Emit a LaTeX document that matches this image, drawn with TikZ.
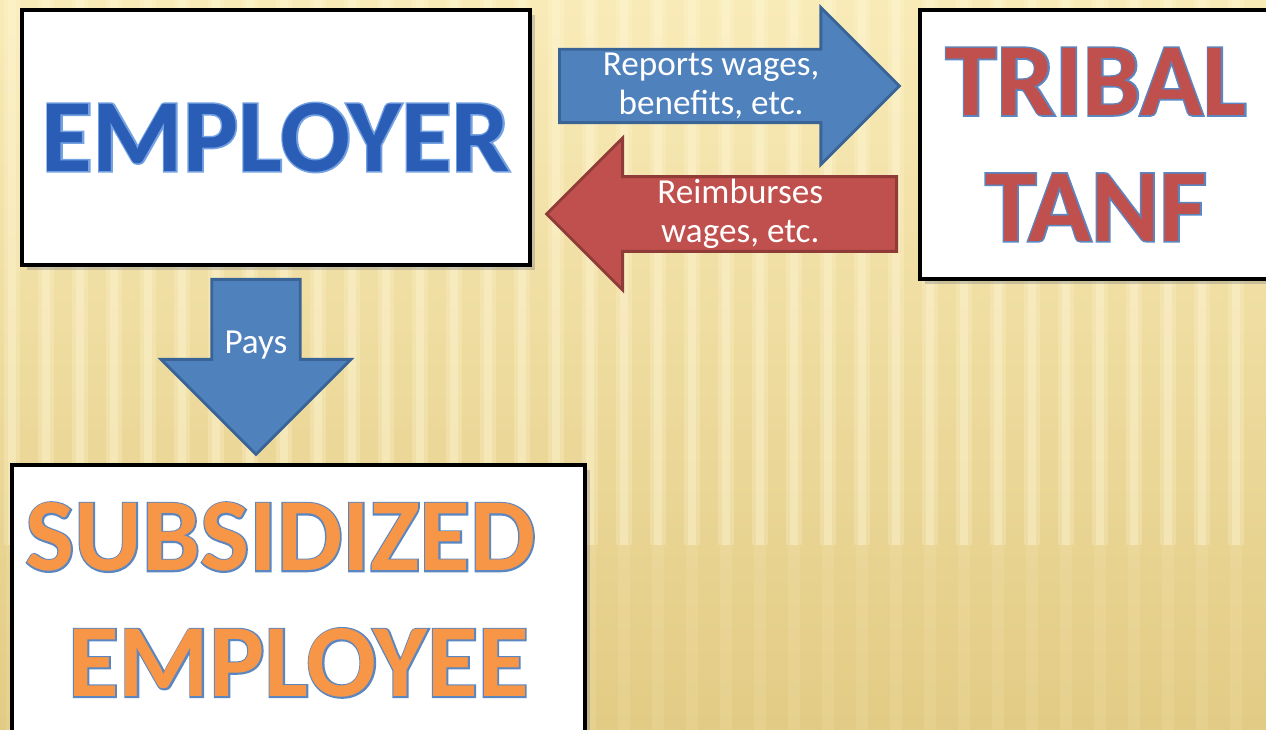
\documentclass[tikz,border=0pt]{standalone}
\usepackage{fontspec}
\setmainfont{Carlito}
\newfontface\titlefont{Carlito Bold}
\newfontface\titleedge{Carlito Bold}[FakeBold=3]
\usetikzlibrary{shapes.arrows,shadows,positioning}

\definecolor{bgtop}{HTML}{F9EBB8}
\definecolor{bgbottom}{HTML}{E2CB84}
\definecolor{stripe}{HTML}{FFF7D6}
\definecolor{arrowblue}{HTML}{4F81BD}
\definecolor{arrowblueline}{HTML}{3A6496}
\definecolor{arrowred}{HTML}{C0504D}
\definecolor{arrowredline}{HTML}{8F3B38}
\definecolor{empblue}{HTML}{2A5EB6}
\definecolor{empedge}{HTML}{74A1E2}
\definecolor{tanfred}{HTML}{C0504D}
\definecolor{staffhue}{HTML}{F79646}
\definecolor{titleline}{HTML}{5A86C2}

% title text with a coloured rim: thick copy below, plain copy on top
\newcommand{\rimtext}[3]{\rlap{\titleedge\color{#2}#3}{\titlefont\color{#1}#3}}

\tikzset{
  party/.style={draw=black, line width=1.1pt, fill=white, inner sep=0pt,
    drop shadow={opacity=0.35, shadow xshift=0.05, shadow yshift=-0.05},
    font=\fontsize{29.5}{35.8}\selectfont, align=center},
  flow/.style={single arrow, single arrow tip angle=90, inner sep=0pt,
    line width=0.8pt, text=white, align=center,
    font=\fontsize{10}{11.2}\selectfont},
}

\begin{document}
\begin{tikzpicture}
    \useasboundingbox (0,0) rectangle (12.66,7.3);

    % Background
    \fill[top color=bgtop, bottom color=bgbottom] (0,0) rectangle (12.66,7.3);
    \foreach \x in {0.12,0.46,...,12.7} {
        \draw[stripe, line width=0.16cm, opacity=0.25] (\x,7.3) -- (\x,1.85);
        \draw[stripe, line width=0.08cm, opacity=0.35] (\x,7.3) -- (\x,1.85);
        \draw[stripe, line width=0.12cm, opacity=0.12] (\x,1.85) -- (\x,0);
    }

    % Parties
    \node[party, minimum width=5.08cm, minimum height=2.55cm] (emp) at (2.76,5.925)
        {\rimtext{empblue}{empedge}{EMPLOYER}};
    \node[party, minimum width=3.52cm, minimum height=2.69cm] (tanf) at (10.96,5.855)
        {\rimtext{tanfred}{titleline}{TRIBAL}\\\rimtext{tanfred}{titleline}{TANF}};
    \node[party, minimum width=5.73cm, minimum height=2.70cm] (staff) at (2.985,1.30)
        {\rimtext{staffhue}{titleline}{SUBSIDIZED}\hspace*{0.36cm}\\\rimtext{staffhue}{titleline}{EMPLOYEE}};

    % Flows between parties
    \node[flow, fill=arrowblue, draw=arrowblueline, anchor=tail,
        minimum height=3.4cm, minimum width=1.57cm, single arrow head extend=0.395cm]
        (reports) at (5.58,6.44) {Reports wages,\\benefits, etc.};
    \node[flow, fill=arrowred, draw=arrowredline, anchor=tail, shape border rotate=180,
        minimum height=3.5cm, minimum width=1.52cm, single arrow head extend=0.375cm]
        (refund) at (8.98,5.16) {Reimburses\\wages, etc.};
    \node[flow, fill=arrowblue, draw=arrowblueline, anchor=tail, shape border rotate=270,
        inner sep=0.1cm, minimum height=1.75cm, minimum width=1.90cm,
        single arrow head extend=0.49cm]
        (pays) at (2.56,4.52) {Pays};
\end{tikzpicture}
\end{document}
